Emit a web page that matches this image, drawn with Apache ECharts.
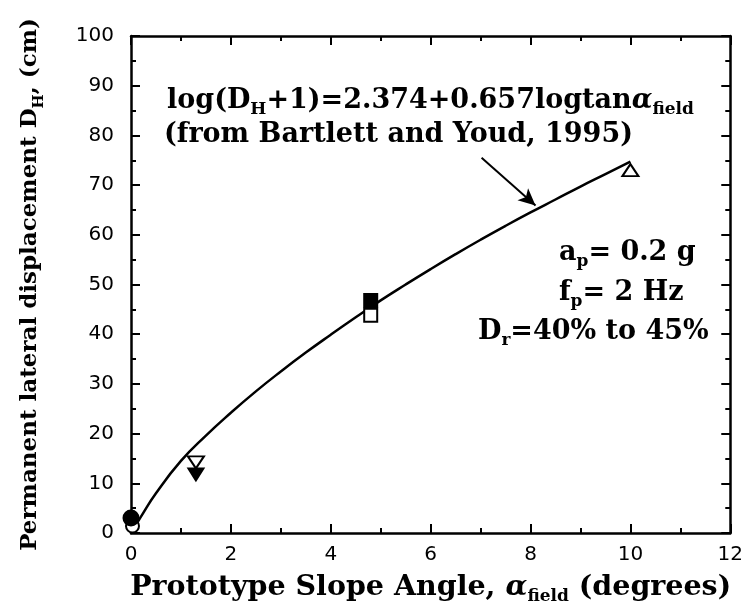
<!DOCTYPE html>
<html><head><meta charset="utf-8">
<script src="https://cdn.jsdelivr.net/npm/echarts@6/dist/echarts.min.js"></script>
<style>html,body{margin:0;padding:0;background:#fff}#c{width:746px;height:610px}</style>
</head><body><div id="c"></div>
<script>
// ---- data ----
const curveX = [0.08, 0.2, 0.5, 1.0, 1.5, 2.0, 2.5, 3.0, 3.5, 4.0, 4.5, 5.0, 5.5, 6.0, 6.5, 7.0, 7.5, 8.0, 8.5, 9.0, 9.5, 10.0];
const curveY = [1.3, 3.3, 8.0, 14.5, 19.6, 24.2, 28.5, 32.5, 36.3, 39.9, 43.4, 46.8, 50.0, 53.1, 56.1, 59.0, 61.8, 64.5, 67.1, 69.7, 72.2, 74.7];
const solidCircle = [[0.0, 3.0]];
const openCircle = [[0.03, 1.4]];
const openDownTri = [[1.3, 14.2]];
const solidDownTri = [[1.3, 11.8]];
const solidSquare = [[4.8, 46.8]];
const openSquare = [[4.8, 43.8]];
const openUpTri = [[10.0, 73.0]];
const arrowFrom = [7.02, 75.5];
const arrowTo = [8.1, 65.9];

const SERIF = 'DejaVu Serif';
const n = (fs) => ({fontFamily: SERIF, fontWeight: 'bold', fontSize: fs, lineHeight: 34, color: '#000'});
const s = (fs) => ({fontFamily: SERIF, fontWeight: 'bold', fontSize: fs, lineHeight: 10, verticalAlign: 'bottom', color: '#000'});
const richA = {n: n(27), s: s(17), a: Object.assign(n(27), {fontStyle: 'italic'})};

const chart = echarts.init(document.getElementById('c'), null, {renderer: 'canvas'});
const tick = {show: true, inside: true, length: 9, lineStyle: {color: '#000', width: 2}};
const minor = {show: true, splitNumber: 2, length: 5, lineStyle: {color: '#000', width: 2}};
const axisLine = {show: true, onZero: false, lineStyle: {color: '#000', width: 2.5}};
const lab = {color: '#000', fontFamily: 'DejaVu Sans', fontSize: 20};

function pts(list) { return list.map(p => [p[0], p[1]]); }
const curve = curveX.map((x, i) => [x, curveY[i]]);

function scat(data, symbol, filled, size, rotate) {
  return {
    type: 'scatter', data: pts(data), symbol: symbol, symbolSize: size, symbolRotate: rotate || 0,
    itemStyle: {color: filled ? '#000' : '#fff', borderColor: '#000', borderWidth: 2, opacity: 1},
    z: 5, silent: true
  };
}

chart.setOption({
  animation: false,
  backgroundColor: '#fff',
  grid: {left: 131, right: 15, top: 36, bottom: 73},
  xAxis: [{
    type: 'value', min: 0, max: 12, interval: 2, position: 'bottom',
    axisLine, axisTick: tick, minorTick: minor, splitLine: {show: false},
    axisLabel: Object.assign({margin: 12}, lab),
    name: '{n|Prototype Slope Angle, }{a|α}{s|field}{n| (degrees)}',
    nameLocation: 'middle', nameGap: 38,
    nameTextStyle: {rich: {n: n(28.5), s: s(17), a: Object.assign(n(28.5), {fontStyle: 'italic'})}}
  }, {
    type: 'value', min: 0, max: 12, interval: 2, position: 'top',
    axisLine, axisTick: tick, minorTick: minor, splitLine: {show: false}, axisLabel: {show: false}
  }],
  yAxis: [{
    type: 'value', min: 0, max: 100, interval: 10, position: 'left',
    axisLine, axisTick: tick, minorTick: minor, splitLine: {show: false},
    axisLabel: Object.assign({margin: 17}, lab),
    name: '{n|Permanent lateral displacement D}{s|H}{n|, (cm)}',
    nameLocation: 'middle', nameGap: 84,
    nameTextStyle: {rich: {n: n(23), s: s(15)}}
  }, {
    type: 'value', min: 0, max: 100, interval: 10, position: 'right',
    axisLine, axisTick: tick, minorTick: minor, splitLine: {show: false}, axisLabel: {show: false}
  }],
  graphic: [
    {type: 'text', x: 167, y: 101, style: {text: '{n|log(D}{s|H}{n|+1)=2.374+0.657logtan}{a|α}{s|field}', rich: richA, verticalAlign: 'middle', textVerticalAlign: 'middle'}},
    {type: 'text', x: 164, y: 135, style: {text: '{n|(from Bartlett and Youd, 1995)}', rich: richA, verticalAlign: 'middle', textVerticalAlign: 'middle'}},
    {type: 'text', x: 559, y: 253, style: {text: '{n|a}{s|p}{n|= 0.2 g}', rich: richA, verticalAlign: 'middle', textVerticalAlign: 'middle'}},
    {type: 'text', x: 559, y: 293, style: {text: '{n|f}{s|p}{n|= 2 Hz}', rich: richA, verticalAlign: 'middle', textVerticalAlign: 'middle'}},
    {type: 'text', x: 478, y: 332, style: {text: '{n|D}{s|r}{n|=40% to 45%}', rich: richA, verticalAlign: 'middle', textVerticalAlign: 'middle'}}
  ],
  series: [
    {
      type: 'line', data: curve, smooth: 0.5, showSymbol: false, symbol: 'none',
      lineStyle: {color: '#000', width: 2.5}, z: 3, silent: true,
      markLine: {
        silent: true, symbol: ['none', 'arrow'], symbolSize: [12, 17],
        label: {show: false},
        lineStyle: {color: '#000', width: 2, type: 'solid'},
        data: [[{coord: arrowFrom}, {coord: arrowTo}]]
      }
    },
    scat(openCircle, 'circle', false, 13),
    scat(solidCircle, 'circle', true, 15),
    scat(openDownTri, 'triangle', false, [16, 12], 180),
    scat(solidDownTri, 'triangle', true, [15, 12], 180),
    scat(solidSquare, 'rect', true, 13),
    scat(openSquare, 'rect', false, 13),
    scat(openUpTri, 'triangle', false, [16, 12])
  ]
});
</script></body></html>
